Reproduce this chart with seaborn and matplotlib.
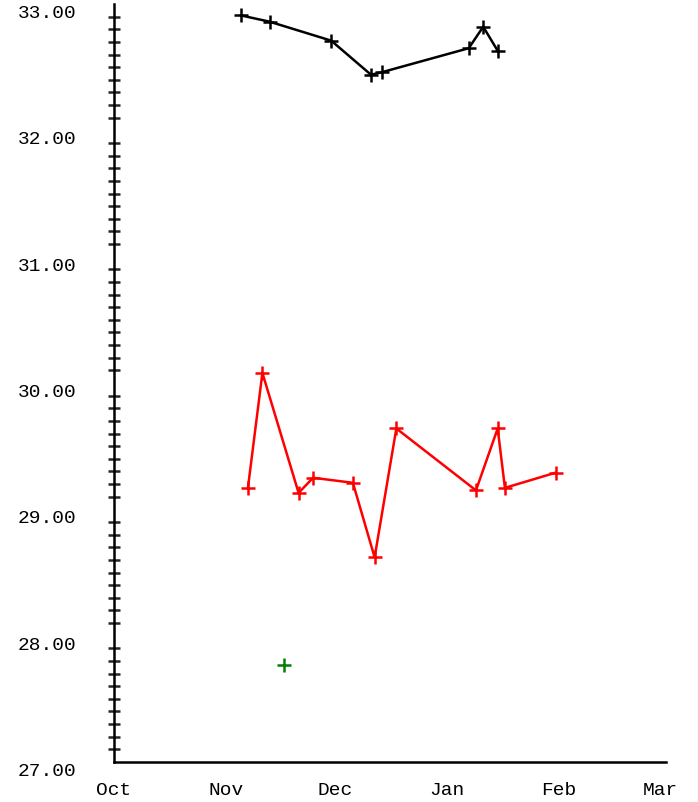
import pandas as pd
import matplotlib
matplotlib.use("Agg")
import matplotlib.pyplot as plt
import matplotlib.dates as mdates
from matplotlib.ticker import MultipleLocator, FormatStrFormatter
import seaborn as sns

# series 1 (black)
black_dates = ["2021-11-05", "2021-11-13", "2021-11-30", "2021-12-11", "2021-12-14",
               "2022-01-07", "2022-01-11", "2022-01-15"]
black_values = [32.91, 32.86, 32.71, 32.44, 32.46, 32.65, 32.82, 32.63]

# series 2 (red)
red_dates = ["2021-11-07", "2021-11-11", "2021-11-21", "2021-11-25", "2021-12-06",
             "2021-12-12", "2021-12-18", "2022-01-09", "2022-01-15", "2022-01-17",
             "2022-01-31"]
red_values = [29.17, 30.08, 29.13, 29.25, 29.21, 28.62, 29.64, 29.15, 29.64, 29.17, 29.29]

# series 3 (green, single point)
green_dates = ["2021-11-17"]
green_values = [27.77]

sns.set_style("white")
plt.rcParams["font.family"] = ["Liberation Mono", "DejaVu Sans Mono"]

fig = plt.figure(figsize=(6.98, 8.03), dpi=100)
ax = fig.add_axes([114 / 698, 40 / 803, 552 / 698, 758 / 803])

for dates, values, color in [(black_dates, black_values, "black"),
                             (red_dates, red_values, "red"),
                             (green_dates, green_values, "green")]:
    df = pd.DataFrame({"date": pd.to_datetime(dates), "value": values})
    sns.lineplot(data=df, x="date", y="value", ax=ax, color=color, linewidth=1.8,
                 marker="+", markersize=10, markeredgewidth=1.8, markeredgecolor=color)

ax.set_xlim(pd.Timestamp("2021-10-01"), pd.Timestamp("2022-03-02 12:00"))
ax.set_ylim(27, 33)
ax.set_xlabel("")
ax.set_ylabel("")

ax.xaxis.set_major_locator(mdates.MonthLocator())
ax.xaxis.set_major_formatter(mdates.DateFormatter("%b"))
ax.yaxis.set_major_locator(MultipleLocator(1))
ax.yaxis.set_minor_locator(MultipleLocator(0.1))
ax.yaxis.set_major_formatter(FormatStrFormatter("%.2f"))

for side in ["top", "right"]:
    ax.spines[side].set_visible(False)
for side in ["left", "bottom"]:
    ax.spines[side].set_linewidth(1.8)
    ax.spines[side].set_color("black")

ax.tick_params(axis="x", which="major", direction="inout", length=20, width=1.8,
               pad=4, labelsize=14, colors="black")
ax.tick_params(axis="y", which="major", direction="inout", length=12, width=1.8,
               pad=21, labelsize=14, colors="black")
ax.tick_params(axis="y", which="minor", direction="inout", length=9, width=1.8,
               left=True)
for lbl in ax.get_yticklabels():
    lbl.set_va("top")

fig.savefig("out.png", dpi=100)
